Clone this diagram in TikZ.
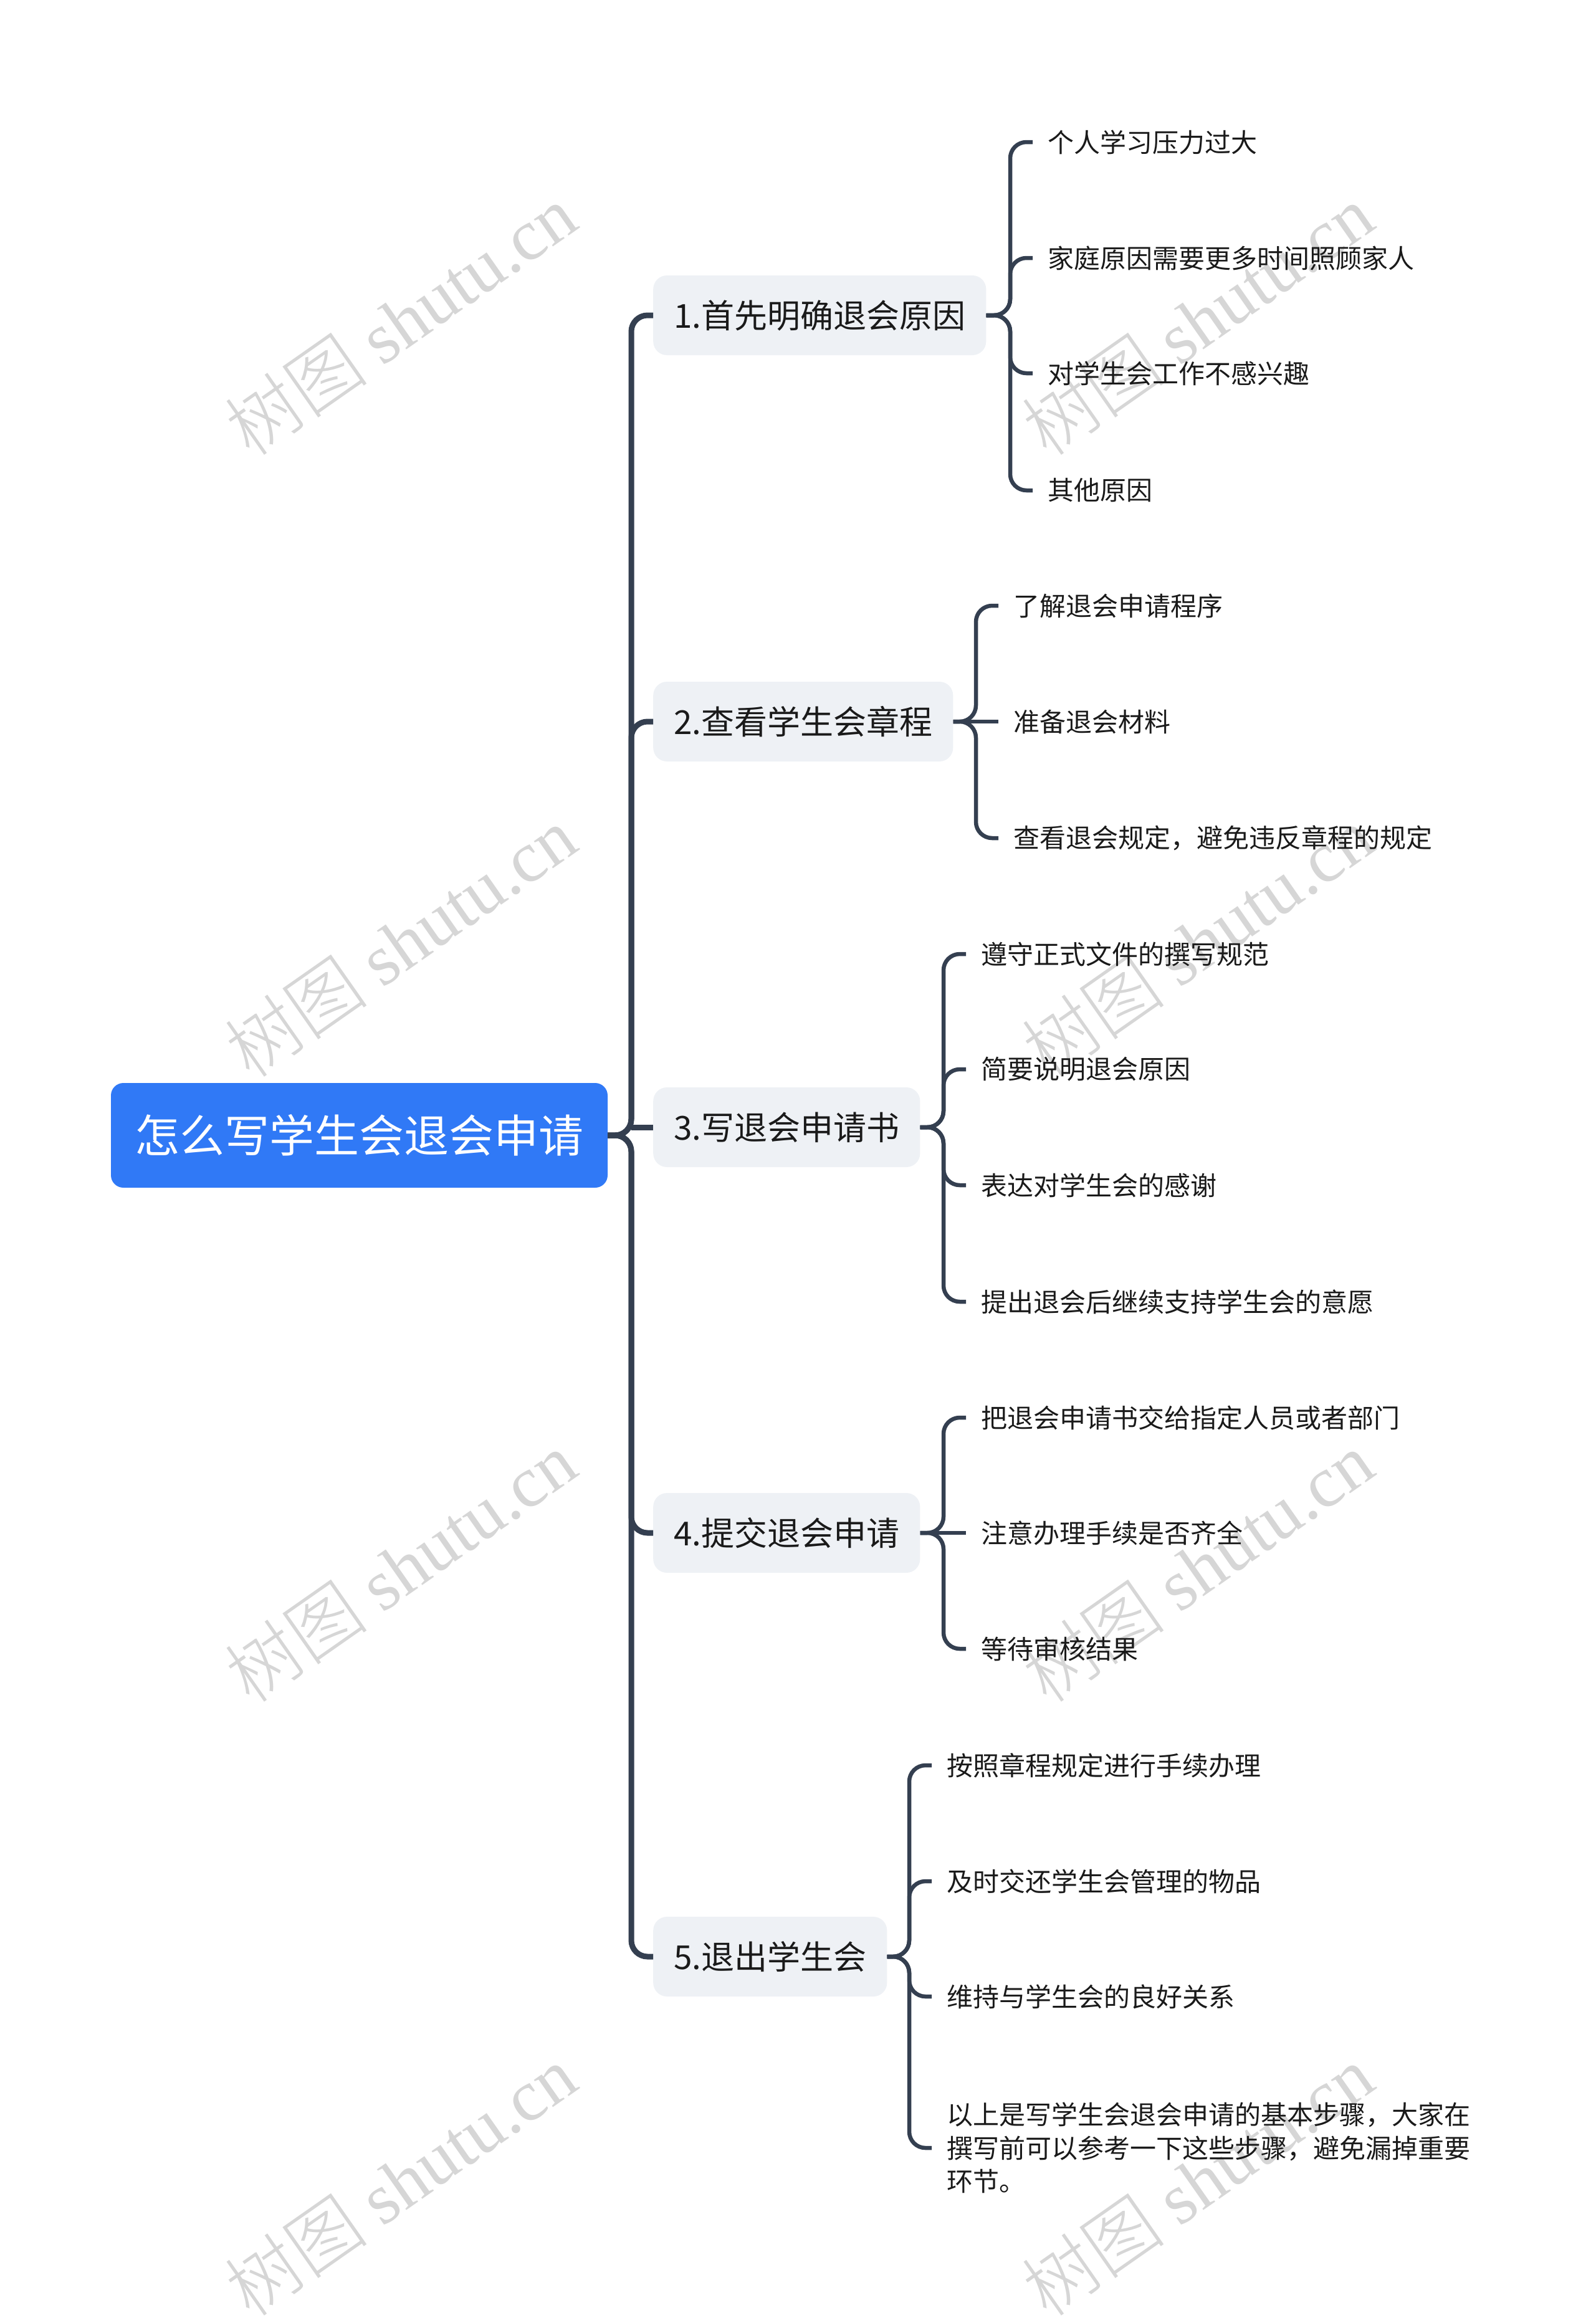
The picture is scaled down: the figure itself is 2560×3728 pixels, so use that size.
\documentclass[tikz,border=0pt]{standalone}
\usepackage{fontspec}
\setmainfont{Noto Sans CJK SC}
\newfontfamily\wmlatin{Liberation Serif}
\newfontfamily\wmcjk{Noto Sans CJK SC Light}
\definecolor{rootblue}{HTML}{3079F6}
\definecolor{branchbg}{HTML}{EEF1F5}
\definecolor{linecol}{HTML}{343F50}
\definecolor{txt}{HTML}{1A1A1A}
\definecolor{wmgray}{HTML}{D6D6D6}
\begin{document}
\begin{tikzpicture}[x=1pt,y=-1pt,
  rootbox/.style={fill=rootblue, rounded corners=20pt, text=white, minimum width=797pt, minimum height=168pt, inner sep=0pt, font=\fontsize{72pt}{80pt}\selectfont},
  branchbox/.style={fill=branchbg, rounded corners=22pt, text=txt, anchor=west, minimum height=128pt, inner xsep=33pt, inner ysep=0pt, font=\fontsize{53pt}{60pt}\selectfont},
  leaf/.style={anchor=west, text=txt, inner xsep=24pt, inner ysep=4pt, align=left, font=\fontsize{42pt}{53.5pt}\selectfont},
  trunk/.style={draw=linecol, line width=9pt, rounded corners=26pt},
  twig/.style={draw=linecol, line width=6.5pt, rounded corners=26pt},
  wm/.style={text=wmgray, rotate=35, inner sep=0pt}
]
\useasboundingbox (0,0) rectangle (2560,3728);

% watermarks
\foreach \wx in {642,1921}{
  \foreach \wy in {514,1512,2515,3500}{
    \node[wm] at (\wx,\wy) {\wmcjk\fontsize{116pt}{118pt}\selectfont 树图 \wmlatin shutu.cn};
  }
}

% root
\node[rootbox] (root) at (576.5,1822) {怎么写学生会退会申请};

% branches
\node[branchbox] (b1) at (1048,506) {1.首先明确退会原因};
\node[branchbox] (b2) at (1048,1158) {2.查看学生会章程};
\node[branchbox] (b3) at (1048,1809) {3.写退会申请书};
\node[branchbox] (b4) at (1048,2460) {4.提交退会申请};
\node[branchbox] (b5) at (1048,3140) {5.退出学生会};

\coordinate (tj) at (1013,1822);
\coordinate (t3) at (1013,1809);

% leaves of branch 1
\node[leaf] (l11) at (1657,228) {个人学习压力过大};
\node[leaf] (l12) at (1657,414) {家庭原因需要更多时间照顾家人};
\node[leaf] (l13) at (1657,599) {对学生会工作不感兴趣};
\node[leaf] (l14) at (1657,787) {其他原因};
% leaves of branch 2
\node[leaf] (l21) at (1602,972) {了解退会申请程序};
\node[leaf] (l22) at (1602,1158) {准备退会材料};
\node[leaf] (l23) at (1602,1345) {查看退会规定，避免违反章程的规定};
% leaves of branch 3
\node[leaf] (l31) at (1550,1531) {遵守正式文件的撰写规范};
\node[leaf] (l32) at (1550,1716) {简要说明退会原因};
\node[leaf] (l33) at (1550,1902) {表达对学生会的感谢};
\node[leaf] (l34) at (1550,2089) {提出退会后继续支持学生会的意愿};
% leaves of branch 4
\node[leaf] (l41) at (1550,2275) {把退会申请书交给指定人员或者部门};
\node[leaf] (l42) at (1550,2460) {注意办理手续是否齐全};
\node[leaf] (l43) at (1550,2646) {等待审核结果};
% leaves of branch 5
\node[leaf] (l51) at (1495,2833) {按照章程规定进行手续办理};
\node[leaf] (l52) at (1495,3019) {及时交还学生会管理的物品};
\node[leaf] (l53) at (1495,3204) {维持与学生会的良好关系};
\node[leaf] (l54) at (1495,3447) {以上是写学生会退会申请的基本步骤，大家在\\撰写前可以参考一下这些步骤，避免漏掉重要\\环节。};

% root to branches
\draw[trunk] (root.east) -- (tj) |- (b1.west);
\draw[trunk] (root.east) -- (tj) |- (b2.west);
\draw[trunk] (t3) -- (b3.west);
\draw[trunk] (root.east) -- (tj) |- (b4.west);
\draw[trunk] (root.east) -- (tj) |- (b5.west);

% branch 1
\foreach \l in {l11,l12,l13,l14}{ \draw[twig] (b1.east) -- (1621,506) |- (\l.west); }
% branch 2
\draw[twig] (b2.east) -- (1566,1158) |- (l21.west);
\draw[twig] (b2.east) -- (l22.west);
\draw[twig] (b2.east) -- (1566,1158) |- (l23.west);
% branch 3
\foreach \l in {l31,l32,l33,l34}{ \draw[twig] (b3.east) -- (1514,1809) |- (\l.west); }
% branch 4
\draw[twig] (b4.east) -- (1514,2460) |- (l41.west);
\draw[twig] (b4.east) -- (l42.west);
\draw[twig] (b4.east) -- (1514,2460) |- (l43.west);
% branch 5
\foreach \l in {l51,l52,l53,l54}{ \draw[twig] (b5.east) -- (1459,3140) |- (\l.west); }
\end{tikzpicture}
\end{document}
